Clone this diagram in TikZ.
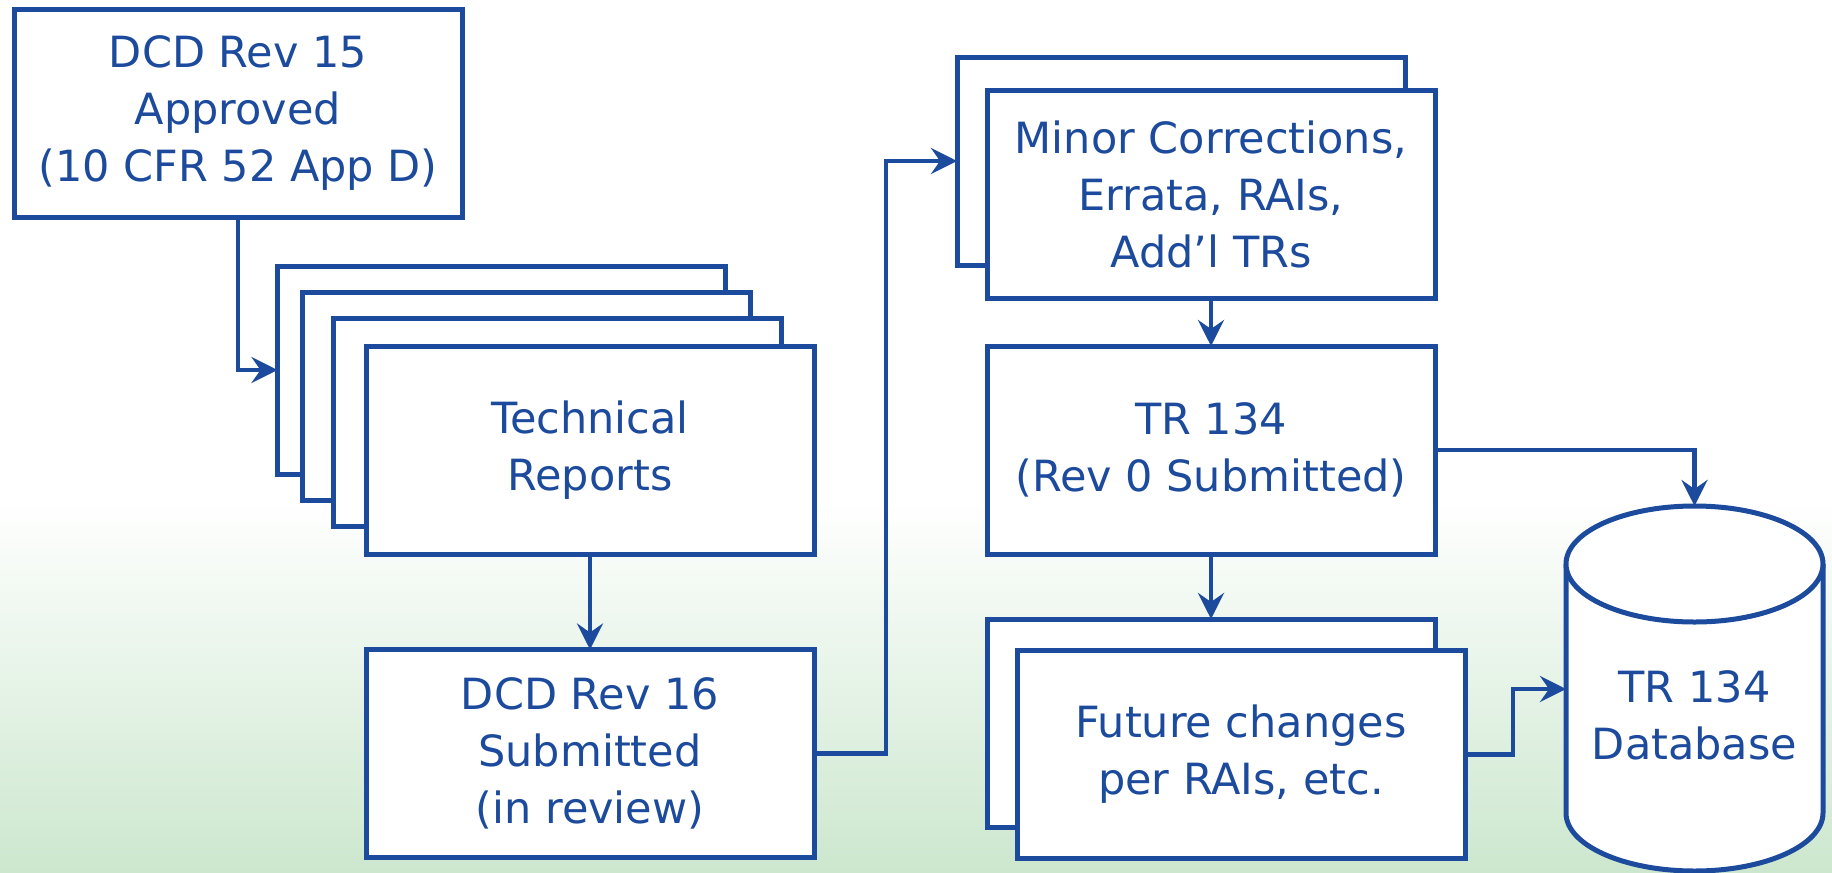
\documentclass[tikz,border=0pt]{standalone}
\usepackage{fontspec}
\setmainfont{DejaVu Sans}
\usetikzlibrary{arrows.meta}
\definecolor{dblue}{RGB}{28,74,156}
\definecolor{bggreen}{RGB}{204,231,206}
\begin{document}
\begin{tikzpicture}[x=1pt,y=-1pt,
  box/.style={draw=dblue, line width=5pt, fill=white, minimum width=448pt, minimum height=208pt,
    inner sep=0pt, outer sep=0pt, align=center, text=dblue, font=\fontsize{43}{57}\selectfont},
  conn/.style={draw=dblue, line width=4.7pt, -{Stealth[length=26pt,width=26pt,inset=9pt]}},
  dbline/.style={draw=dblue, line width=5pt, fill=white}]
\useasboundingbox (0,0) rectangle (1832,873);
\fill[white] (0,0) rectangle (1832,873);
\shade[top color=white, bottom color=bggreen] (0,500) rectangle (1832,873);

% left column
\node[box] (dcd15) at (238,113) {DCD Rev 15\\Approved\\(10 CFR 52 App D)};
\node[box] (tr1) at (501.5,370) {};
\node[box] (tr2) at (526,396) {};
\node[box] (tr3) at (557.5,422) {};
\node[box] (tr4) at (590,450) {Technical\\Reports};
\node[box] (dcd16) at (590,753.5) {DCD Rev 16\\Submitted\\(in review)};

% middle column
\node[box] (minb) at (1181,161) {};
\node[box] (minf) at (1211,194) {Minor Corrections,\\Errata, RAIs,\\Add’l TRs};
\node[box] (tr134) at (1211,450) {TR 134\\(Rev 0 Submitted)};
\node[box] (futb) at (1211,723) {};
\node[box] (futf) at (1241,754.5) {Future changes\\per RAIs, etc.};

% database cylinder
\path[dbline, draw=none] (1566,564) -- (1566,813) arc[start angle=180, end angle=0, x radius=128.5, y radius=58] -- (1823,564) -- cycle;
\path[dbline, fill=none] (1566,564) -- (1566,813) arc[start angle=180, end angle=0, x radius=128.5, y radius=58] -- (1823,564);
\path[dbline] (1694.5,564) ellipse [x radius=128.5, y radius=58];
\node[text=dblue, font=\fontsize{43}{57}\selectfont, align=center] (db) at (1694.5,715) {TR 134\\Database};
\coordinate (dbtop) at (1694.5,506);
\coordinate (dbleft) at (1566,689);

% connectors
\draw[conn] (dcd15.south) |- (tr1.west);
\draw[conn] (tr4.south) -- (dcd16.north);
\draw[conn] (dcd16.east) -- ++(72,0) |- (minb.west);
\draw[conn] (minf.south) -- (tr134.north);
\draw[conn] (tr134.south) -- (futb.north);
\draw[conn] (tr134.east) -| (dbtop);
\draw[conn] (futf.east) -- ++(48,0) |- (dbleft);
\end{tikzpicture}
\end{document}
